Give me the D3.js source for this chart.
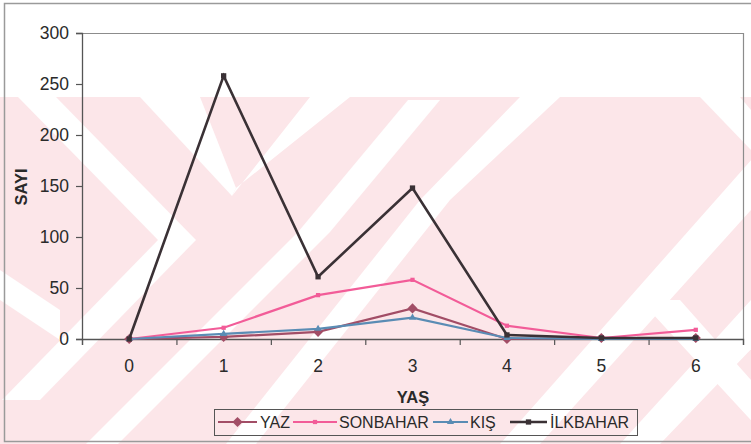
<!DOCTYPE html>
<html>
<head>
<meta charset="utf-8">
<script src="https://cdn.jsdelivr.net/npm/d3@7"></script>
<style>
  html, body { margin: 0; padding: 0; background: #fff; }
  svg { display: block; font-family: "Liberation Sans", Arial, sans-serif; }
</style>
</head>
<body>
<svg id="chart" width="751" height="444"></svg>
<script>
// Age classes (YAŞ) on the x axis
const ages = ["0", "1", "2", "3", "4", "5", "6"];

// Counts (SAYI) per season
const yaz       = [0, 2, 7, 30, 0, 1, 1];
const sonbahar  = [0, 11, 43, 58, 13, 1, 9];
const kis       = [0, 5, 10, 21, 1, 0, 0];
const ilkbahar  = [0, 258, 61, 148, 4, 1, 1];

const seriesNames = ["YAZ", "SONBAHAR", "KIŞ", "İLKBAHAR"];
const yTicks = [0, 50, 100, 150, 200, 250, 300];

const series = [
  { name: seriesNames[0], values: yaz,      color: "#a24d66", width: 2.2, marker: "diamond",  msize: 52 },
  { name: seriesNames[1], values: sonbahar, color: "#f25c98", width: 2.2, marker: "square",   msize: 18 },
  { name: seriesNames[2], values: kis,      color: "#5a8cb4", width: 2.2, marker: "triangle", msize: 22 },
  { name: seriesNames[3], values: ilkbahar, color: "#3a3135", width: 2.6, marker: "square",   msize: 28 }
];

const svg = d3.select("#chart");
const W = 751, H = 444;
const plot = { left: 82, right: 743, top: 33, bottom: 339 };

// Background watermark: pale pink field cut by white diagonal bands
const wm = svg.append("g").attr("class", "watermark");
wm.append("rect").attr("x", 0).attr("y", 97).attr("width", W).attr("height", H - 97)
  .attr("fill", "#fce6e9");
const bands = [
  [[18, 97], [56, 97], [196, 240], [158, 240]],
  [[158, 240], [196, 240], [40, 400], [2, 400]],
  [[140, 97], [200, 97], [236, 188], [232, 196]],
  [[236, 188], [232, 196], [310, 97], [350, 97]],
  [[86, 444], [118, 444], [330, 232], [298, 232]],
  [[226, 444], [256, 444], [450, 200], [420, 200]],
  [[298, 232], [330, 232], [440, 100], [408, 100]],
  [[420, 200], [450, 200], [560, 97], [520, 97]],
  [[500, 444], [540, 444], [760, 200], [760, 150]],
  [[620, 444], [660, 444], [760, 340], [760, 290]],
  [[640, 300], [680, 300], [760, 390], [760, 430]],
  [[700, 97], [740, 97], [751, 110], [751, 150]],
  [[0, 270], [0, 300], [60, 340], [60, 310]]
];
wm.selectAll("polygon").data(bands).join("polygon")
  .attr("points", d => d.map(p => p.join(",")).join(" "))
  .attr("fill", "#ffffff");

// Outer chart frame
svg.append("path")
  .attr("d", `M${W + 2},3.5 H4.5 V441.5 H${W + 2}`)
  .attr("fill", "none").attr("stroke", "#9a9a9a").attr("stroke-width", 1.5);

// Scales
const x = d3.scaleBand().domain(ages).range([plot.left, plot.right]);
const xEdge = d3.scaleLinear().domain([0, ages.length]).range([plot.left, plot.right]);
const y = d3.scaleLinear().domain([0, 300]).range([plot.bottom, plot.top]);

// Plot-area border (top and right)
svg.append("path")
  .attr("d", `M${plot.left},${plot.top + 0.5} H${plot.right + 0.5} V${plot.bottom}`)
  .attr("fill", "none").attr("stroke", "#8c8c8c").attr("stroke-width", 1.2);

// Y axis
const yAxis = svg.append("g")
  .attr("transform", `translate(${plot.left},0)`)
  .call(d3.axisLeft(y).tickValues(yTicks).tickSize(6).tickPadding(7));
yAxis.select(".domain").attr("stroke", "#555").attr("stroke-width", 1.3);
yAxis.selectAll(".tick line").attr("stroke", "#555").attr("stroke-width", 1.2);
yAxis.selectAll(".tick text")
  .attr("fill", "#2a2a2a").attr("font-size", 17.5)
  .attr("font-family", "Liberation Sans, Arial, sans-serif");

// X axis: tick marks between categories, labels at category centres
const xAxis = svg.append("g")
  .attr("transform", `translate(0,${plot.bottom})`)
  .call(d3.axisBottom(xEdge).tickValues(d3.range(ages.length + 1)).tickSize(6).tickFormat(""));
xAxis.select(".domain").attr("stroke", "#555").attr("stroke-width", 1.3);
xAxis.selectAll(".tick line").attr("stroke", "#555").attr("stroke-width", 1.2);

svg.append("g").selectAll("text").data(ages).join("text")
  .attr("x", d => x(d) + x.bandwidth() / 2)
  .attr("y", 372)
  .attr("text-anchor", "middle")
  .attr("font-size", 17.5).attr("fill", "#2a2a2a")
  .text(d => d);

// Axis titles
svg.append("text")
  .attr("transform", "translate(27,187) rotate(-90)")
  .attr("text-anchor", "middle")
  .attr("font-size", 16.5).attr("font-weight", "bold").attr("fill", "#2a2a2a")
  .text("SAYI");
svg.append("text")
  .attr("x", 413).attr("y", 403)
  .attr("text-anchor", "middle")
  .attr("font-size", 16.5).attr("font-weight", "bold").attr("fill", "#2a2a2a")
  .text("YAŞ");

// Marker shapes (diamond = square turned 45°)
const symbolFor = {
  diamond: d3.symbolSquare,
  square: d3.symbolSquare,
  triangle: d3.symbolTriangle
};
const rotFor = { diamond: 45, square: 0, triangle: 0 };

const line = d3.line()
  .x((d, i) => x(ages[i]) + x.bandwidth() / 2)
  .y(d => y(d));

const gSeries = svg.append("g").selectAll("g").data(series).join("g");
gSeries.append("path")
  .attr("d", s => line(s.values))
  .attr("fill", "none")
  .attr("stroke", s => s.color)
  .attr("stroke-width", s => s.width)
  .attr("stroke-linejoin", "miter");
gSeries.each(function (s) {
  d3.select(this).selectAll("path.mark").data(s.values).join("path")
    .attr("class", "mark")
    .attr("transform", (d, i) =>
      `translate(${x(ages[i]) + x.bandwidth() / 2},${y(d)}) rotate(${rotFor[s.marker]})`)
    .attr("d", d3.symbol().type(symbolFor[s.marker]).size(s.msize))
    .attr("fill", s.color);
});

// Legend
const legend = svg.append("g");
legend.append("rect")
  .attr("x", 214.5).attr("y", 409.5).attr("width", 423).attr("height", 26)
  .attr("fill", "none").attr("stroke", "#555").attr("stroke-width", 1);
const legendItems = [
  { lx: 218, len: 39, tx: 260 },
  { lx: 293, len: 44, tx: 339 },
  { lx: 433, len: 35, tx: 470 },
  { lx: 510, len: 37, tx: 550 }
];
series.forEach((s, i) => {
  const it = legendItems[i];
  const g = legend.append("g");
  g.append("line")
    .attr("x1", it.lx).attr("x2", it.lx + it.len)
    .attr("y1", 422).attr("y2", 422)
    .attr("stroke", s.color).attr("stroke-width", s.width);
  g.append("path")
    .attr("transform", `translate(${it.lx + it.len / 2},422) rotate(${rotFor[s.marker]})`)
    .attr("d", d3.symbol().type(symbolFor[s.marker]).size(s.msize))
    .attr("fill", s.color);
  g.append("text")
    .attr("x", it.tx).attr("y", 428)
    .attr("font-size", 16).attr("fill", "#2a2a2a")
    .text(s.name);
});
</script>
</body>
</html>
